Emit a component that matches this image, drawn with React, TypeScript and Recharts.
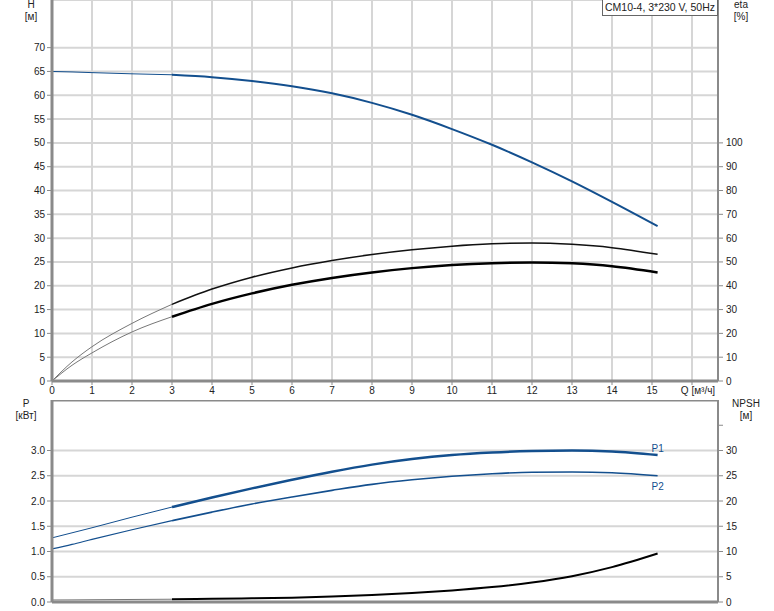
import React from 'react';
import { LineChart, Line, XAxis, YAxis, CartesianGrid, ReferenceLine } from 'recharts';

// flow points, m³/h
const flowQ = [0, 0.5, 1, 2, 3, 4, 5, 6, 7, 8, 9, 10, 11, 12, 13, 14, 15.14];

// head, m
const headH = [65.0, 64.9, 64.75, 64.5, 64.3, 63.8, 63.0, 61.9, 60.4, 58.4, 55.9, 52.9, 49.6, 45.9, 41.9, 37.6, 32.5];
// efficiencies, %
const etaUpper = [0, 8, 14.4, 24.2, 32.2, 38.6, 43.6, 47.5, 50.6, 53.1, 55.1, 56.6, 57.6, 58.0, 57.4, 56.0, 53.2];
const etaLower = [0, 6.6, 11.8, 20.6, 27.0, 32.4, 36.8, 40.4, 43.3, 45.6, 47.4, 48.7, 49.5, 49.8, 49.4, 48.2, 45.6];
// power, kW
const powerP1 = [1.27, 1.37, 1.47, 1.68, 1.88, 2.07, 2.25, 2.42, 2.58, 2.72, 2.83, 2.91, 2.96, 2.99, 3.0, 2.98, 2.91];
const powerP2 = [1.05, 1.14, 1.24, 1.43, 1.61, 1.78, 1.94, 2.08, 2.21, 2.33, 2.42, 2.49, 2.54, 2.57, 2.575, 2.56, 2.5];
// NPSH, m
const npsh = [0.4, 0.42, 0.45, 0.5, 0.55, 0.62, 0.72, 0.86, 1.08, 1.38, 1.76, 2.28, 2.95, 3.85, 5.1, 6.9, 9.6];

const xTicks = [0, 1, 2, 3, 4, 5, 6, 7, 8, 9, 10, 11, 12, 13, 14, 15, 16];
const hTicks = [0, 5, 10, 15, 20, 25, 30, 35, 40, 45, 50, 55, 60, 65, 70, 75, 80];
const etaTicks = [0, 10, 20, 30, 40, 50, 60, 70, 80, 90, 100];
const pTicks = [0, 0.5, 1, 1.5, 2, 2.5, 3, 3.5, 4];
const npshTicks = [0, 5, 10, 15, 20, 25, 30, 35];

const SPLIT = 4; // index of Q = 3, where the thin part ends

const pts = (vals: number[], from: number, to: number) =>
    flowQ.slice(from, to).map((q, i) => ({ q, v: vals[from + i] }));

const thin = (vals: number[]) => pts(vals, 0, SPLIT + 1);
const thick = (vals: number[]) => pts(vals, SPLIT, flowQ.length);

const BLUE = '#134f8e';
const AXIS = '#8a8a8a';
const GRID = '#d6d6d6';
const TXT = '#222';
const FONT = 'Arial, "Liberation Sans", sans-serif';

const XTick = (props: any) => {
    const { x, y, payload } = props;
    const isQ = payload.value === 16;
    return (
        <g>
            <line x1={x} x2={x} y1={y} y2={y + 4} stroke={AXIS} />
            <text x={isQ ? x + 6 : x} y={y + 13} textAnchor="middle" fontSize={10} fill={TXT} fontFamily={FONT}>
                {isQ ? 'Q [м³/ч]' : payload.value}
            </text>
        </g>
    );
};

const makeLeftTick = (maxLabel: number, maxLine: number, digits: number) => (props: any) => {
    const { x, y, payload } = props;
    const v = payload.value;
    return (
        <g>
            {v <= maxLine && <line x1={x - 5} x2={x} y1={y} y2={y} stroke={AXIS} />}
            {v <= maxLabel && (
                <text x={x - 7} y={y} dy="0.35em" textAnchor="end" fontSize={10} fill={TXT} fontFamily={FONT}>
                    {v.toFixed(digits)}
                </text>
            )}
        </g>
    );
};

const makeRightTick = (maxLabel: number, maxLine: number) => (props: any) => {
    const { x, y, payload } = props;
    const v = payload.value;
    return (
        <g>
            {v <= maxLine && <line x1={x} x2={x + 5} y1={y} y2={y} stroke={AXIS} />}
            {v <= maxLabel && (
                <text x={x + 8} y={y} dy="0.35em" textAnchor="start" fontSize={10} fill={TXT} fontFamily={FONT}>
                    {v}
                </text>
            )}
        </g>
    );
};

const endLabel = (text: string, count: number, dy: number) => (props: any) => {
    const { x, y, index } = props;
    if (index !== count - 1) return null;
    return (
        <text x={x - 6} y={y + dy} fontSize={10} fill={BLUE} fontFamily={FONT}>
            {text}
        </text>
    );
};

const axisTitle = (left: number, top: number, text: string) => (
    <div
        style={{
            position: 'absolute',
            left,
            top,
            width: 40,
            marginLeft: -20,
            textAlign: 'center',
            fontSize: 10,
            lineHeight: '12px',
            color: TXT,
        }}
    >
        {text}
    </div>
);

export default function App() {
    const thickCount = flowQ.length - SPLIT;
    return (
        <div
            style={{
                position: 'absolute',
                left: 0,
                top: 0,
                width: 774,
                height: 611,
                background: '#fff',
                fontFamily: FONT,
                overflow: 'hidden',
            }}
        >
            <div style={{ position: 'absolute', left: 0, top: 0 }}>
                <LineChart width={774} height={400} margin={{ top: 0, right: 0, bottom: 0, left: 0 }}>
                    <CartesianGrid stroke={GRID} strokeWidth={2} yAxisId="h" />
                    <XAxis
                        type="number"
                        dataKey="q"
                        domain={[0, 16.65]}
                        ticks={xTicks}
                        allowDataOverflow
                        height={19}
                        tickSize={0}
                        tickMargin={0}
                        tick={<XTick />}
                        axisLine={{ stroke: AXIS, strokeWidth: 3 }}
                    />
                    <YAxis
                        yAxisId="h"
                        domain={[0, 80]}
                        ticks={hTicks}
                        width={52}
                        tickSize={0}
                        tickMargin={0}
                        tick={makeLeftTick(70, 70, 0)}
                        axisLine={{ stroke: AXIS, strokeWidth: 3 }}
                    />
                    <YAxis
                        yAxisId="eta"
                        orientation="right"
                        domain={[0, 160]}
                        ticks={etaTicks}
                        width={56}
                        tickSize={0}
                        tickMargin={0}
                        tick={makeRightTick(100, 100)}
                        axisLine={{ stroke: AXIS, strokeWidth: 2 }}
                    />
                    <Line yAxisId="eta" data={thin(etaUpper)} dataKey="v" type="monotone" stroke="#777" strokeWidth={1} dot={false} activeDot={false} isAnimationActive={false} />
                    <Line yAxisId="eta" data={thick(etaUpper)} dataKey="v" type="monotone" stroke="#111" strokeWidth={1.5} dot={false} activeDot={false} isAnimationActive={false} />
                    <Line yAxisId="eta" data={thin(etaLower)} dataKey="v" type="monotone" stroke="#777" strokeWidth={1} dot={false} activeDot={false} isAnimationActive={false} />
                    <Line yAxisId="eta" data={thick(etaLower)} dataKey="v" type="monotone" stroke="#000" strokeWidth={2.5} dot={false} activeDot={false} isAnimationActive={false} />
                    <Line yAxisId="h" data={thin(headH)} dataKey="v" type="monotone" stroke={BLUE} strokeWidth={1} dot={false} activeDot={false} isAnimationActive={false} />
                    <Line yAxisId="h" data={thick(headH)} dataKey="v" type="monotone" stroke={BLUE} strokeWidth={2} dot={false} activeDot={false} isAnimationActive={false} />
                </LineChart>
            </div>

            <div style={{ position: 'absolute', left: 0, top: 400 }}>
                <LineChart width={774} height={211} margin={{ top: 0, right: 0, bottom: 0, left: 0 }}>
                    <CartesianGrid stroke={GRID} strokeWidth={2} yAxisId="p" />
                    <XAxis
                        type="number"
                        dataKey="q"
                        domain={[0, 16.65]}
                        ticks={xTicks}
                        allowDataOverflow
                        height={9}
                        tick={false}
                        tickLine={false}
                        axisLine={{ stroke: AXIS, strokeWidth: 3 }}
                    />
                    <YAxis
                        yAxisId="p"
                        domain={[0, 4]}
                        ticks={pTicks}
                        width={52}
                        tickSize={0}
                        tickMargin={0}
                        tick={makeLeftTick(3, 3.5, 1)}
                        axisLine={{ stroke: AXIS, strokeWidth: 3 }}
                    />
                    <YAxis
                        yAxisId="npsh"
                        orientation="right"
                        domain={[0, 40]}
                        ticks={npshTicks}
                        width={56}
                        tickSize={0}
                        tickMargin={0}
                        tick={makeRightTick(30, 35)}
                        axisLine={{ stroke: AXIS, strokeWidth: 2 }}
                    />
                    <ReferenceLine yAxisId="p" y={4} stroke={AXIS} strokeWidth={3} />
                    <Line yAxisId="npsh" data={thin(npsh)} dataKey="v" type="monotone" stroke="#777" strokeWidth={1} dot={false} activeDot={false} isAnimationActive={false} />
                    <Line yAxisId="npsh" data={thick(npsh)} dataKey="v" type="monotone" stroke="#000" strokeWidth={2} dot={false} activeDot={false} isAnimationActive={false} />
                    <Line yAxisId="p" data={thin(powerP2)} dataKey="v" type="monotone" stroke={BLUE} strokeWidth={1.2} dot={false} activeDot={false} isAnimationActive={false} />
                    <Line
                        yAxisId="p"
                        data={thick(powerP2)}
                        dataKey="v"
                        type="monotone"
                        stroke={BLUE}
                        strokeWidth={1.6}
                        dot={false}
                        activeDot={false}
                        isAnimationActive={false}
                        label={endLabel('P2', thickCount, 14)}
                    />
                    <Line yAxisId="p" data={thin(powerP1)} dataKey="v" type="monotone" stroke={BLUE} strokeWidth={1} dot={false} activeDot={false} isAnimationActive={false} />
                    <Line
                        yAxisId="p"
                        data={thick(powerP1)}
                        dataKey="v"
                        type="monotone"
                        stroke={BLUE}
                        strokeWidth={2.5}
                        dot={false}
                        activeDot={false}
                        isAnimationActive={false}
                        label={endLabel('P1', thickCount, -3)}
                    />
                </LineChart>
            </div>

            <div
                style={{
                    position: 'absolute',
                    left: 602,
                    top: 0,
                    width: 114,
                    height: 15,
                    border: '1px solid #666',
                    borderTop: 'none',
                    background: '#fff',
                    fontSize: 10.5,
                    lineHeight: '15px',
                    textAlign: 'center',
                    color: TXT,
                    whiteSpace: 'nowrap',
                }}
            >
                CM10-4, 3*230 V, 50Hz
            </div>

            {axisTitle(31, -1, 'H')}
            {axisTitle(31, 11, '[м]')}
            {axisTitle(741, -1, 'eta')}
            {axisTitle(741, 11, '[%]')}
            {axisTitle(26, 398, 'P')}
            {axisTitle(26, 410, '[кВт]')}
            {axisTitle(746, 398, 'NPSH')}
            {axisTitle(746, 410, '[м]')}
        </div>
    );
}
